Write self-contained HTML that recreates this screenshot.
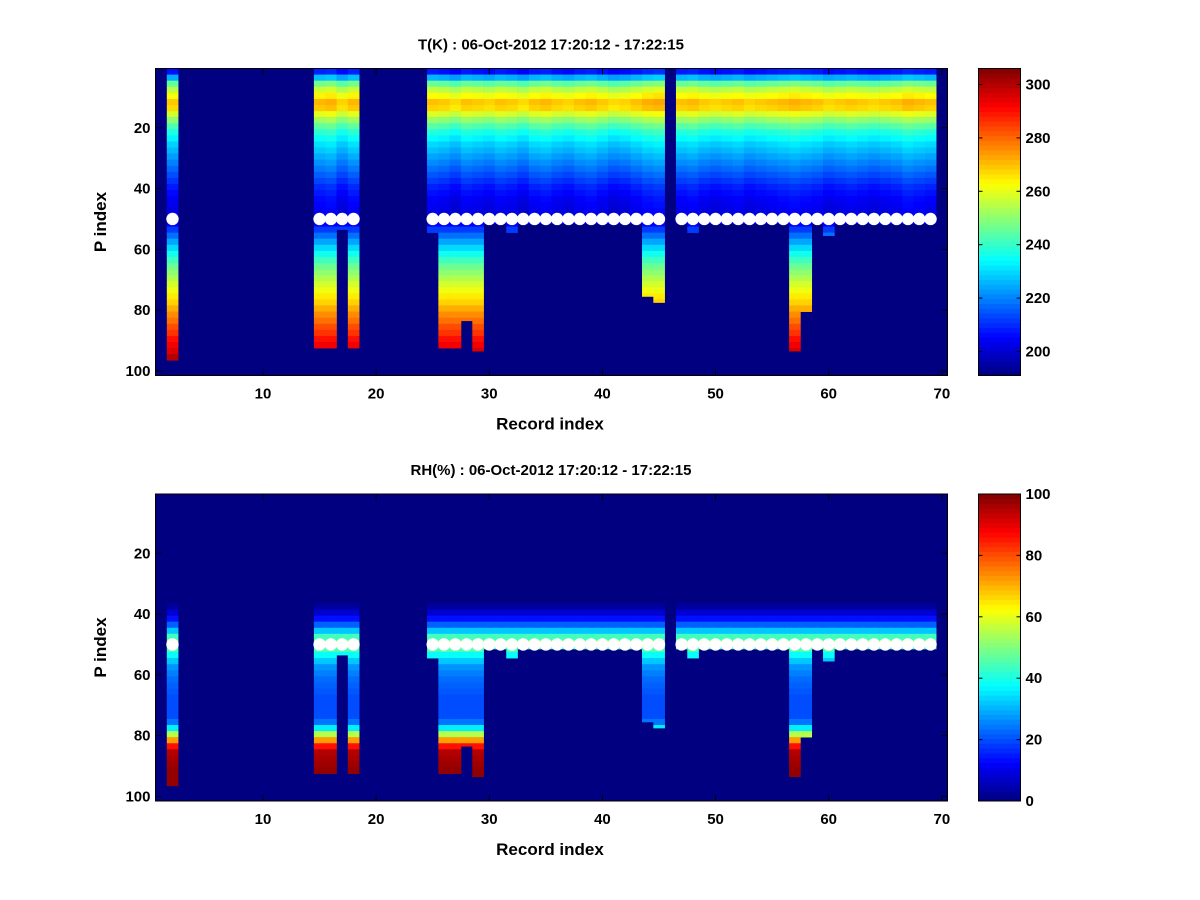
<!DOCTYPE html>
<html><head><meta charset="utf-8">
<style>
body{margin:0;background:#fff;}
svg{display:block;font-family:"Liberation Sans",sans-serif;font-weight:bold;}
</style></head>
<body>
<svg id="fig" width="1200" height="900" viewBox="0 0 1200 900" xmlns="http://www.w3.org/2000/svg"></svg>
<script>
// ---- data ----
const records = [2,15,16,17,18,25,26,27,28,29,30,31,32,33,34,35,36,37,38,39,40,41,42,43,44,45,47,48,49,50,51,52,53,54,55,56,57,58,59,60,61,62,63,64,65,66,67,68,69];
const bottomLevel = [96,92,92,53,92,54,92,92,83,93,51,51,54,51,51,51,51,51,51,51,51,51,51,51,75,77,51,54,51,51,51,51,51,51,51,51,93,80,51,55,51,51,51,51,51,51,51,51,51];
const tOffset = [0,2,3,-1,2,1,0,-2,1,0,-1,1,0,-2,1,2,0,-1,1,2,0,-2,-1,1,3,4,1,2,0,-1,0,1,-1,0,1,2,3,2,1,-1,0,1,0,-1,0,1,3,2,1];
// profile values at levels 1,3,5,...,99 (each covers 2 levels)
const tProfile = [207,225,245,255,262,269,267,258,250,243,237,233,229,226,223,220,217,214,211,208,206,204,203,202,201,205,212,218,224,230,236,241,246,250,254,258,261,265,268,272,276,279,283,286,290,293,296,300,303,305];
const rhProfile = [0,0,0,0,0,0,0,0,0,0,0,0,0,0,0,0,0,0,3,8,14,22,32,44,50,45,38,32,27,25,23,22,21,20,20,20,20,24,36,55,72,86,95,96,97,98,98,98,98,98];
const xTicks = [10,20,30,40,50,60,70];
const yTicks = [20,40,60,80,100];
const tBarTicks = [200,220,240,260,280,300];
const rhBarTicks = [0,20,40,60,80,100];
const dotLevel = 50;

const NS = "http://www.w3.org/2000/svg";
const svg = document.getElementById('fig');
function mk(tag, attrs, parent){const e=document.createElementNS(NS,tag);for(const k in attrs)e.setAttribute(k,attrs[k]);(parent||svg).appendChild(e);return e;}

function jet(t){
  t=Math.max(0,Math.min(1,t));
  const r=Math.max(0,Math.min(1,1.5-Math.abs(4*t-3)));
  const g=Math.max(0,Math.min(1,1.5-Math.abs(4*t-2)));
  const b=Math.max(0,Math.min(1,1.5-Math.abs(4*t-1)));
  return `rgb(${Math.round(r*255)},${Math.round(g*255)},${Math.round(b*255)})`;
}

function panel(cfg){
  const L=155.5,R=947.5,T=cfg.top,B=cfg.top+307;
  const xs=v=>L+(v-0.5)*(R-L)/70;
  const ys=v=>T+(v-0.5)*(B-T)/101;
  const g=mk('g',{});
  
  
  const bg=mk('rect',{x:L,y:T,width:R-L,height:B-T,fill:jet(0)},g);
  
  
  const cells=mk('g',{},g);
  
  
  records.forEach((rec,i)=>{
    for(let p=1;p<=bottomLevel[i];p+=2){
      let v=cfg.profile[Math.floor((p-1)/2)];
      if(cfg.useOffset && p<50) v+=tOffset[i];
      const last=Math.min(p+1,bottomLevel[i]);
      const c=mk('rect',{x:xs(rec-0.5),y:ys(p-0.5),width:xs(rec+0.5)-xs(rec-0.5)+0.3,height:ys(last+0.5)-ys(p-0.5)+0.3,fill:jet((v-cfg.cmin)/(cfg.cmax-cfg.cmin))},cells);
      
      
    }
  });
  const dots=mk('g',{},g);
  
  
  records.forEach(rec=>{
    const d=mk('circle',{cx:xs(rec),cy:ys(dotLevel),r:6.2,fill:'#fff'},dots);
    
    
  });
  const frame=mk('rect',{x:L,y:T,width:R-L,height:B-T,fill:'none',stroke:'#000','stroke-width':1},g);
  
  
  xTicks.forEach(v=>{
    const x=xs(v);
    mk('line',{x1:x,y1:B,x2:x,y2:B-6,stroke:'#000'},g);
    mk('line',{x1:x,y1:T,x2:x,y2:T+6,stroke:'#000'},g);
    const t=mk('text',{x:x,y:B+23,'text-anchor':'middle','font-size':15},g);
    t.textContent=v;
    
    
  });
  yTicks.forEach(v=>{
    const y=ys(v);
    mk('line',{x1:L,y1:y,x2:L+6,y2:y,stroke:'#000'},g);
    mk('line',{x1:R,y1:y,x2:R-6,y2:y,stroke:'#000'},g);
    const t=mk('text',{x:L-5,y:y+5,'text-anchor':'end','font-size':15},g);
    t.textContent=v;
    
    
  });
  const ti=mk('text',{x:551,y:T-19,'text-anchor':'middle','font-size':15},g);
  ti.textContent=cfg.title;
  
  
  const xl=mk('text',{x:550,y:B+54,'text-anchor':'middle','font-size':17},g);
  xl.textContent='Record index';
  
  
  const yl=mk('text',{x:0,y:0,'text-anchor':'middle','font-size':17,transform:`translate(106,${(T+B)/2}) rotate(-90)`},g);
  yl.textContent='P index';
  
  
  // colorbar
  const CL=978.5,CR=1020.5;
  const cb=mk('g',{},g);
  
  
  const n=64;
  for(let k=0;k<n;k++){
    mk('rect',{x:CL,y:B-(k+1)*(B-T)/n,width:CR-CL,height:(B-T)/n+0.4,fill:jet((k+0.5)/n)},cb);
  }
  mk('rect',{x:CL,y:T,width:CR-CL,height:B-T,fill:'none',stroke:'#000'},cb);
  const cs=v=>B-(v-cfg.cmin)*(B-T)/(cfg.cmax-cfg.cmin);
  cfg.barTicks.forEach(v=>{
    const y=cs(v);
    mk('line',{x1:CL,y1:y,x2:CL+4,y2:y,stroke:'#000'},cb);
    mk('line',{x1:CR,y1:y,x2:CR-4,y2:y,stroke:'#000'},cb);
    const t=mk('text',{x:CR+5,y:y+5,'font-size':15},cb);
    t.textContent=v;
    
    
  });
}
panel({name:'temperature',top:68.5,title:'T(K) : 06-Oct-2012 17:20:12 - 17:22:15',profile:tProfile,cmin:191,cmax:306,barTicks:tBarTicks,useOffset:true});
panel({name:'humidity',top:494,title:'RH(%) : 06-Oct-2012 17:20:12 - 17:22:15',profile:rhProfile,cmin:0,cmax:100,barTicks:rhBarTicks,useOffset:false});
</script>
</body></html>
